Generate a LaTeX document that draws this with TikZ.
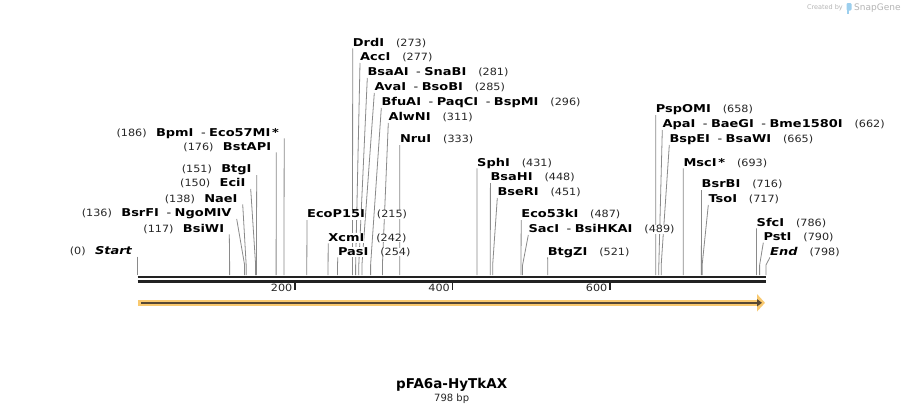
\documentclass[tikz,border=0pt]{standalone}
\usepackage{fontspec}
\setmainfont{DejaVu Sans}
\newfontfamily\enzf{DejaVu Sans}[FakeStretch=1.2]
\newfontfamily\numf{DejaVu Sans}[FakeStretch=1.12]
\usetikzlibrary{calc,arrows.meta}
\pgfdeclarelayer{bg}
\pgfsetlayers{bg,main}
\definecolor{cutline}{HTML}{8A8A8A}
\definecolor{axisc}{HTML}{222222}
\definecolor{bandc}{HTML}{F9C96F}
\definecolor{darkc}{HTML}{574834}
\definecolor{wmark}{HTML}{B5B5B5}
\definecolor{wlogo}{HTML}{9CCFEE}
\newcommand\esep{\hspace{7.5pt}{\mdseries -}\hspace{3.5pt}}
\tikzset{
  enz/.style={font={\enzf\bfseries\fontsize{10.8}{13}\selectfont}, inner sep=0pt, text depth=2pt, fill=white},
  posn/.style={font={\numf\fontsize{10}{12}\selectfont}, inner sep=0pt, fill=white, text=black!85},
  cut/.style={draw=cutline, line width=0.8pt},
  axisline/.style={draw=axisc, line width=2.6pt},
  tickline/.style={draw=axisc, line width=1.8pt},
}
% right-hand label: id, position, x top, y top, name, number
\newcommand\Rlab[6]{%
  \node[enz,anchor=south west] (n#1) at (#3,#4) {#5};
  \node[posn,anchor=base west] (p#1) at ([xshift=11.5pt]n#1.base east) {#6};
  \coordinate (b#1) at ({137.5+0.7875*#2},265);
  \coordinate (a#1) at ({137.5+0.7875*#2},275);
  \begin{pgfonlayer}{bg}\draw[cut] (n#1.south west) -- (b#1) -- (a#1);\end{pgfonlayer}
}
% left-hand label: id, position, x top, y top, name, number
\newcommand\Llab[6]{%
  \node[enz,anchor=south east] (n#1) at (#3-5,#4) {#5};
  \node[posn,anchor=base east] (p#1) at ([xshift=-9pt]n#1.base west) {#6};
  \coordinate (b#1) at ({137.5+0.7875*#2},265);
  \coordinate (a#1) at ({137.5+0.7875*#2},275);
  \begin{pgfonlayer}{bg}\draw[cut] ([xshift=5pt]n#1.south east) -- (b#1) -- (a#1);\end{pgfonlayer}
}
\begin{document}
\begin{tikzpicture}[x=1pt,y=-1pt]
\begin{pgfonlayer}{bg}
\fill[white] (0,0) rectangle (905,415);
\end{pgfonlayer}
\useasboundingbox (0,0) rectangle (905,415);

% left labels
\Llab{0}{0}{137.5}{256.7}{\textit{Start}}{(0)}
\Llab{117}{117}{229.3}{234.3}{BsiWI}{(117)}
\Llab{136}{136}{236.7}{219}{BsrFI\esep NgoMIV}{(136)}
\Llab{138}{138}{242.7}{204.3}{NaeI}{(138)}
\Llab{150}{150}{250.7}{189}{EciI}{(150)}
\Llab{151}{151}{256.7}{175}{BtgI}{(151)}
\Llab{176}{176}{276.3}{152.3}{BstAPI}{(176)}
\Llab{186}{186}{284.2}{138.3}{BpmI\esep Eco57MI\,*}{(186)}

% right labels
\Rlab{215}{215}{307}{220}{EcoP15I}{(215)}
\Rlab{242}{242}{328.2}{243.3}{XcmI}{(242)}
\Rlab{254}{254}{337.8}{257.3}{PasI}{(254)}
\Rlab{273}{273}{352.7}{48.3}{DrdI}{(273)}
\Rlab{277}{277}{360}{63}{AccI}{(277)}
\Rlab{281}{281}{367.3}{78}{BsaAI\esep SnaBI}{(281)}
\Rlab{285}{285}{374.3}{93}{AvaI\esep BsoBI}{(285)}
\Rlab{296}{296}{381.3}{108}{BfuAI\esep PaqCI\esep BspMI}{(296)}
\Rlab{311}{311}{388.3}{123}{AlwNI}{(311)}
\Rlab{333}{333}{399.8}{145}{NruI}{(333)}
\Rlab{431}{431}{477}{168.3}{SphI}{(431)}
\Rlab{448}{448}{490.4}{183}{BsaHI}{(448)}
\Rlab{451}{451}{497.3}{198}{BseRI}{(451)}
\Rlab{487}{487}{521.2}{220}{Eco53kI}{(487)}
\Rlab{489}{489}{528.3}{235}{SacI\esep BsiHKAI}{(489)}
\Rlab{521}{521}{547.6}{257.3}{BtgZI}{(521)}
\Rlab{658}{658}{655.7}{115}{PspOMI}{(658)}
\Rlab{662}{662}{662.3}{130}{ApaI\esep BaeGI\esep Bme1580I}{(662)}
\Rlab{665}{665}{669.3}{145}{BspEI\esep BsaWI}{(665)}
\Rlab{693}{693}{683.3}{168.3}{MscI\,*}{(693)}
\Rlab{716}{716}{701.5}{190}{BsrBI}{(716)}
\Rlab{717}{717}{708.3}{205}{TsoI}{(717)}
\Rlab{786}{786}{756.5}{228.3}{SfcI}{(786)}
\Rlab{790}{790}{763.3}{242.7}{PstI}{(790)}
\Rlab{798}{798}{770}{257.3}{\textit{End}}{(798)}

% axis
\coordinate (axL1) at (137.5,276.8);
\coordinate (axR1) at (766,276.8);
\coordinate (axL2) at (137.5,281.4);
\coordinate (axR2) at (766,281.4);
\draw[axisline] (axL1) -- (axR1);
\draw[axisline] (axL2) -- (axR2);
\foreach \v/\xx in {200/295,400/452.5,600/610}{
  \coordinate (t\v) at (\xx,282.7);
  \coordinate (u\v) at (\xx,290);
  \draw[tickline] (t\v) -- (u\v);
  \node[posn,anchor=base east,fill=none] (l\v) at (\xx-2.5,291.5) {\v};
}

% feature arrow
\coordinate (fa) at (138,302.8);
\coordinate (fb) at (765,302.8);
\coordinate (fc) at (141,302.8);
\coordinate (fd) at (762,302.8);
\draw[draw=bandc, line width=6pt, -{Triangle[length=8pt,width=17pt,fill=bandc]}] (fa) -- (fb);
\draw[draw=darkc, line width=2.6pt, -{Triangle[length=5pt,width=7pt,fill=darkc]}] (fc) -- (fd);

% title
\node[font=\fontsize{13.5}{15}\selectfont\bfseries, inner sep=0pt] (title) at (451.7,384.5) {pFA6a-HyTkAX};
\node[font=\fontsize{10}{12}\selectfont, inner sep=0pt, text=black!85] (len) at (451.7,398.5) {798 bp};

% watermark
\node[font=\fontsize{6.5}{8}\selectfont, text=wmark, anchor=east, inner sep=0pt] (wm1) at (843,8) {Created by};
\fill[wlogo, rounded corners=1.2pt] (846.5,3) rectangle (851.5,10.5);
\fill[wlogo] (846.5,8) rectangle (848.7,13.5);
\node[font=\fontsize{9}{10}\selectfont, text=wmark, anchor=west, inner sep=0pt] (wm2) at (854,8.5) {SnapGene};
\end{tikzpicture}
\end{document}
